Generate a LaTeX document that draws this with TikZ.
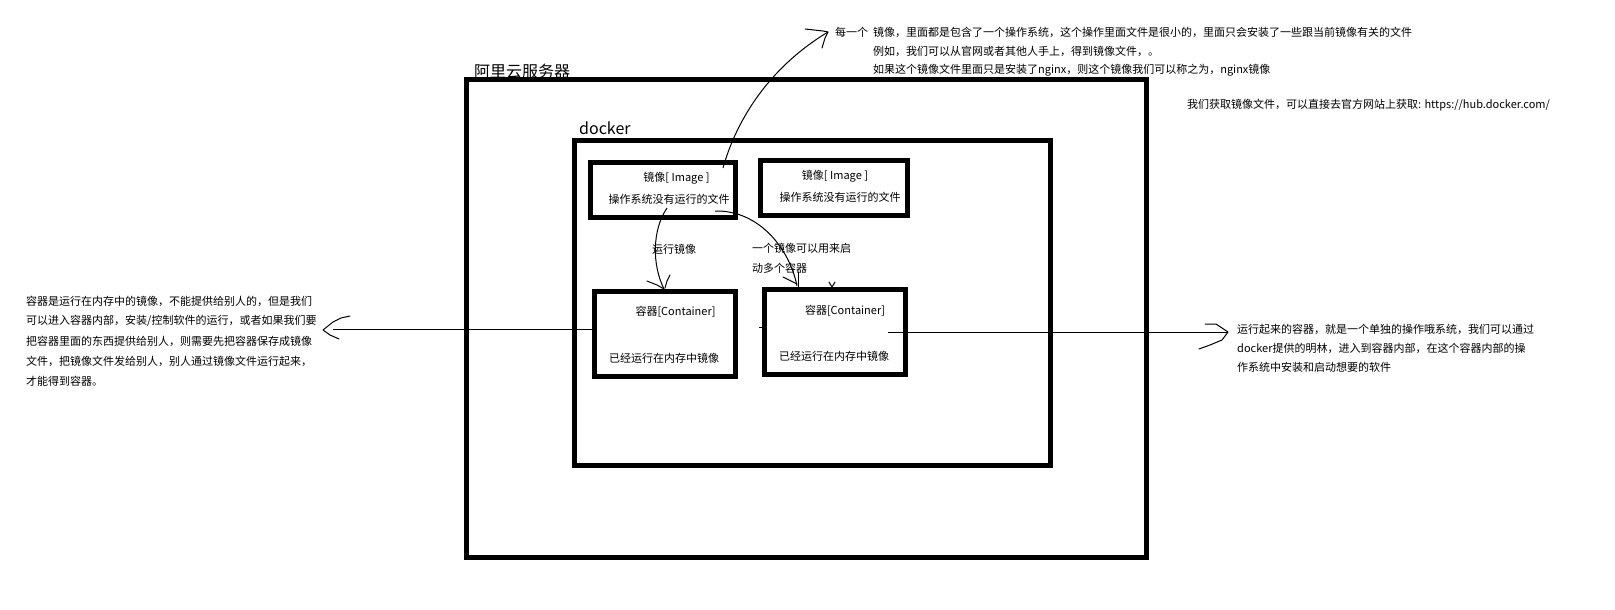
\documentclass[tikz,border=0pt]{standalone}
\usepackage{fontspec}
\setmainfont{Noto Sans CJK SC}
\begin{document}
\begin{tikzpicture}[x=1pt,y=-1pt,
  frame/.style={draw, line width=5pt, inner sep=0pt},
  big/.style={inner sep=0pt, anchor=west, font=\fontsize{16}{18}\selectfont},
  txt/.style={inner sep=0pt, anchor=west, font=\fontsize{11}{13}\selectfont},
  ctxt/.style={inner sep=0pt, anchor=center, font=\fontsize{11}{13}\selectfont},
  wire/.style={draw, line width=1pt},
  tipline/.style={draw, line width=1pt, line join=round, line cap=round}]
\fill[white] (0,0) rectangle (1615,610);
\useasboundingbox (0,0) rectangle (1615,610);

% frames
\node[frame, minimum width=680pt, minimum height=477pt] (outer) at (806,318.5) {};
\node[frame, minimum width=476pt, minimum height=325pt] (docker) at (812,302.5) {};
\node[frame, minimum width=145pt, minimum height=55pt] (img1) at (663,190) {};
\node[frame, minimum width=147pt, minimum height=55pt] (img2) at (834,188) {};
\node[frame, minimum width=141pt, minimum height=84.5pt] (cont1) at (665,333.75) {};
\node[frame, minimum width=141pt, minimum height=84.5pt] (cont2) at (835,331.75) {};

% titles
\node[big] (tserver) at (474,71) {阿里云服务器};
\node[big] (tdocker) at (579,128) {docker};

% box texts
\node[ctxt] (i1a) at (676.5,178) {镜像[ Image ]};
\node[ctxt] (i1b) at (669,199) {操作系统没有运行的文件};
\node[ctxt] (i2a) at (835,176) {镜像[ Image ]};
\node[ctxt] (i2b) at (840,197) {操作系统没有运行的文件};
\node[ctxt] (c1a) at (675.5,312) {容器[Container]};
\node[ctxt] (c1b) at (664,358) {已经运行在内存中镜像};
\node[ctxt] (c2a) at (845,311) {容器[Container]};
\node[ctxt] (c2b) at (834,356) {已经运行在内存中镜像};

% middle labels
\node[ctxt] (run) at (674,249) {运行镜像};
\node[txt] (multi1) at (752,248) {一个镜像可以用来启};
\node[txt] (multi2) at (752,268) {动多个容器};

% top notes
\node[txt] (mei) at (835,32) {每一个};
\node[txt] (t1) at (873,32) {镜像，里面都是包含了一个操作系统，这个操作里面文件是很小的，里面只会安装了一些跟当前镜像有关的文件};
\node[txt] (t2) at (873,51) {例如，我们可以从官网或者其他人手上，得到镜像文件，。};
\node[txt] (t3) at (873,70) {如果这个镜像文件里面只是安装了nginx，则这个镜像我们可以称之为，nginx镜像};
\node[txt] (hub) at (1187,105) {我们获取镜像文件，可以直接去官方网站上获取: https://hub.docker.com/};

% left note
\node[txt] (l1) at (26,301) {容器是运行在内存中的镜像，不能提供给别人的，但是我们};
\node[txt] (l2) at (26,321) {可以进入容器内部，安装/控制软件的运行，或者如果我们要};
\node[txt] (l3) at (26,341) {把容器里面的东西提供给别人，则需要先把容器保存成镜像};
\node[txt] (l4) at (26,361) {文件，把镜像文件发给别人，别人通过镜像文件运行起来，};
\node[txt] (l5) at (26,381) {才能得到容器。};

% right note
\node[txt] (r1) at (1237,329) {运行起来的容器，就是一个单独的操作哦系统，我们可以通过};
\node[txt] (r2) at (1237,348) {docker提供的明林，进入到容器内部，在这个容器内部的操};
\node[txt] (r3) at (1237,367) {作系统中安装和启动想要的软件};

% connector endpoints
\coordinate (a1s) at (723,168);
\coordinate (a1t) at (828,32);
\coordinate (a2s) at (667,208);
\coordinate (a2t) at (664,289);
\coordinate (a3s) at (715,211);
\coordinate (a3t) at (797,286);
\coordinate (lfs) at (cont1.west |- 0,329);
\coordinate (lft) at (323,330);
\coordinate (rts) at (888,332);
\coordinate (rtt) at (1228,332);

% image -> top note
\draw[wire] (a1s) .. controls (735,125) and (765,70) .. (a1t);
\draw[tipline] (805,29) -- (823,31) -- (a1t) -- (825,38) -- (822,48);
% run image
\draw[wire] (a2s) .. controls (652,230) and (652,265) .. (a2t);
\draw[tipline] (647,281) -- (657,285) -- (a2t);
\draw[tipline] (670,275) -- (667,281) -- (665,288);
% one image many containers
\draw[wire] (a3s) .. controls (760,210) and (790,250) .. (a3t);
\draw[tipline] (798,272) -- (798,288);
\draw[tipline] (783,277) -- (797,284);
\draw[tipline] (829,282) -- (832,287) -- (835,282);
\draw[wire] (759,327) -- (762,327);
% left arrow
\draw[wire] (lfs) -- (333,329);
\draw[tipline] (350,316) -- (341,318) -- (333,322) -- (lft) -- (330,335) -- (339,339);
% right arrow
\draw[wire] (rts) -- (rtt);
\draw[tipline] (1205,324) -- (1216,324) -- (rtt) -- (1222,340) -- (1210,345) -- (1199,349);
\end{tikzpicture}
\end{document}
